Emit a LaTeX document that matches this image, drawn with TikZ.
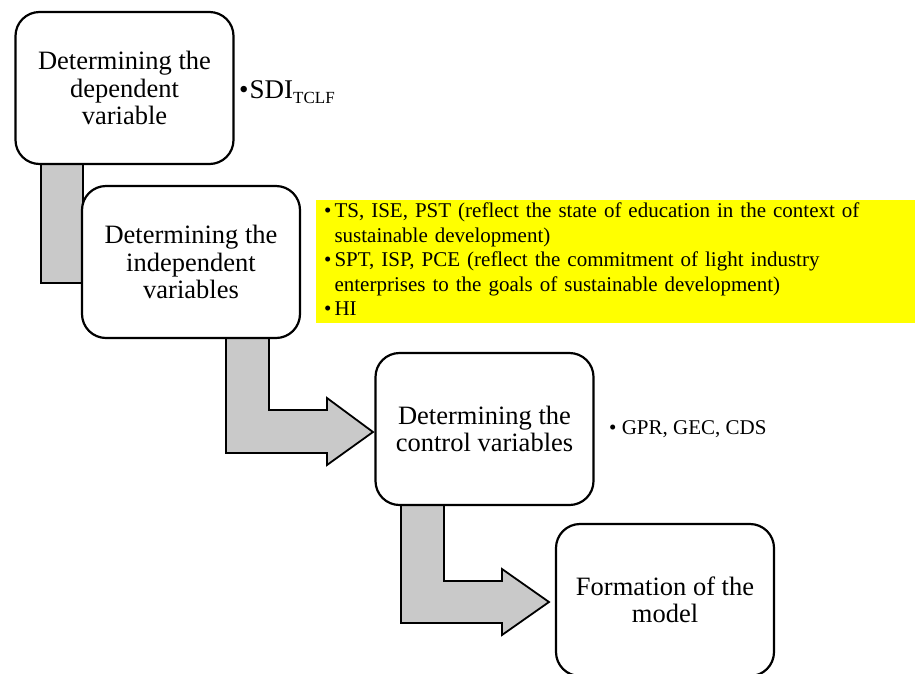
\documentclass[tikz,border=0pt]{standalone}
\usepackage{fontspec}
\setmainfont{Liberation Serif}
\usetikzlibrary{calc}
\definecolor{arrowgray}{RGB}{201,201,201}
\definecolor{hiyellow}{RGB}{255,255,0}
\begin{document}
\begin{tikzpicture}[x=1pt,y=-1pt,
  stepbox/.style={draw=black, line width=2.2pt, fill=white, rounded corners=24pt,
    minimum width=218pt, minimum height=152pt, inner sep=0pt, align=center,
    font=\fontsize{26.5}{27.5}\selectfont},
  bendarrow/.style={draw=black, line width=1.8pt, fill=arrowgray, line join=miter},
  smalltext/.style={inner sep=0pt, font=\fontsize{21}{24.5}\selectfont}]
\useasboundingbox (0,0) rectangle (915,673);
% block arrows (behind boxes)
\draw[bendarrow] (41,150) -- (41,283) -- (83,283) -- (83,150) -- cycle;
\draw[bendarrow] (226,325) -- (226,453) -- (327,453) -- (327,465) -- (373,432)
  -- (327,398) -- (327,410) -- (269,410) -- (269,325) -- cycle;
\draw[bendarrow] (401,495) -- (401,623) -- (502,623) -- (502,635) -- (549,602)
  -- (502,569) -- (502,581) -- (444,581) -- (444,495) -- cycle;
% boxes
\node[stepbox] (b1) at (124.5,88) {Determining the\\dependent\\variable};
\node[stepbox] (b2) at (191,262) {Determining the\\independent\\variables};
\node[stepbox] (b3) at (484.5,429) {Determining the\\control variables};
\node[stepbox] (b4) at (665,600) {Formation of the\\model};
% side texts
\node[inner sep=0pt, anchor=base west, font=\fontsize{27}{27}\selectfont] (t1) at (239,98)
  {\textbullet\hspace{1pt}SDI\raisebox{-5pt}{\fontsize{17}{17}\selectfont TCLF}};
\node[smalltext, fill=hiyellow, anchor=north west, minimum width=599pt, minimum height=123pt,
  text width=583pt, inner xsep=8pt, align=left] (t2) at (316,200)
  {\begin{tabular}{@{}l@{\hspace{3pt}}l@{}}
   \textbullet & TS, ISE, PST (reflect the state of education in the context of\\
               & sustainable development)\\
   \textbullet & SPT, ISP, PCE (reflect the commitment of light industry\\
               & enterprises to the goals of sustainable development)\\
   \textbullet & HI
   \end{tabular}};
\node[smalltext, anchor=base west] (t3) at (609,434) {\textbullet{} GPR, GEC, CDS};
\end{tikzpicture}
\end{document}
